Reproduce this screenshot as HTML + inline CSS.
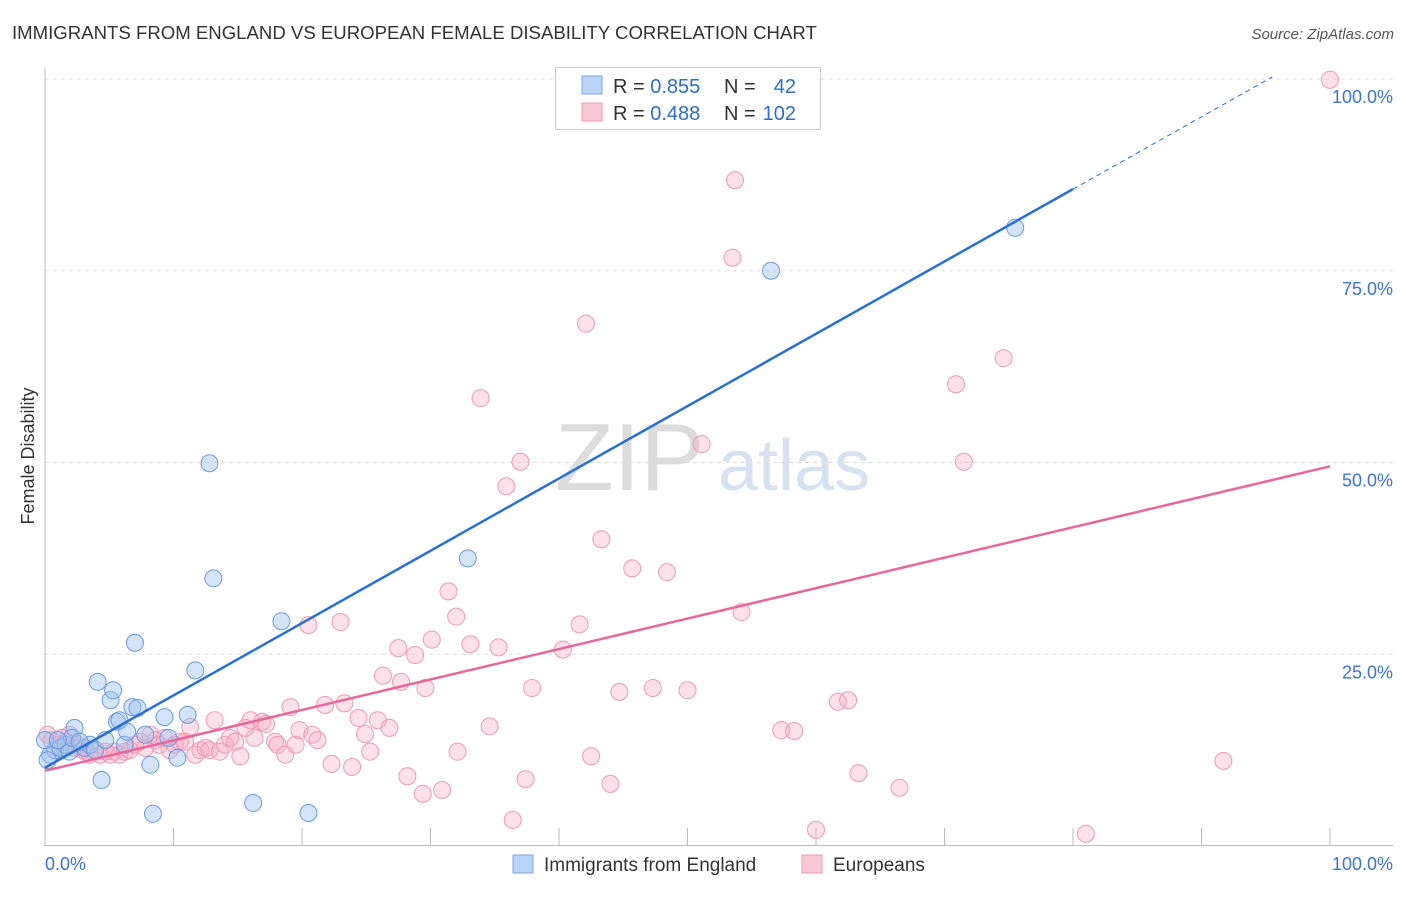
<!DOCTYPE html>
<html><head><meta charset="utf-8"><style>
body{margin:0;background:#fff;font-family:"Liberation Sans",sans-serif}
svg text{font-family:"Liberation Sans",sans-serif}
</style></head><body>
<svg id="chart" width="1406" height="892" xmlns="http://www.w3.org/2000/svg">
<text x="12" y="39" font-size="18.6" fill="#333">IMMIGRANTS FROM ENGLAND VS EUROPEAN FEMALE DISABILITY CORRELATION CHART</text>
<text x="1394" y="39" font-size="15" fill="#555" text-anchor="end" font-style="italic">Source: ZipAtlas.com</text>
<text x="555" y="490" font-size="96" fill="#dcdcdc" font-family="Liberation Serif">ZIP</text>
<text x="718" y="490" font-size="72" fill="#d6e2f2">atlas</text>
<g id="grid"></g>
<g id="marks"></g>
<text transform="translate(34,456) rotate(-90)" font-size="18" fill="#333" text-anchor="middle">Female Disability</text>
<g>
<rect x="555.5" y="67.5" width="265" height="62" fill="#fff" stroke="#ccc"/>
<rect x="582" y="76" width="20" height="18" fill="#b9d4f5" stroke="#7aa6e0"/>
<rect x="582" y="103" width="20" height="18" fill="#f9c8d6" stroke="#ee9ab3"/>
<text x="613" y="93" font-size="20" fill="#333">R = <tspan fill="#2f6ccc">0.855</tspan></text>
<text x="724" y="93" font-size="20" fill="#333">N =</text>
<text x="796" y="93" font-size="20" fill="#2f6ccc" text-anchor="end">42</text>
<text x="613" y="120" font-size="20" fill="#333">R = <tspan fill="#2f6ccc">0.488</tspan></text>
<text x="724" y="120" font-size="20" fill="#333">N =</text>
<text x="796" y="120" font-size="20" fill="#2f6ccc" text-anchor="end">102</text>
</g>
<g>
<rect x="513" y="855" width="20" height="18" fill="#b9d4f5" stroke="#7aa6e0"/>
<text x="544" y="871" font-size="19" fill="#333">Immigrants from England</text>
<rect x="802" y="855" width="20" height="18" fill="#f9c8d6" stroke="#ee9ab3"/>
<text x="833" y="871" font-size="19" fill="#333">Europeans</text>
</g>
</svg>
<script>
const blueX=[0.4,0.8,1.2,1.6,1.9,2.3,2.1,3.1,3.5,3.9,4.1,4.4,4.7,5.1,5.3,5.6,5.8,6.2,6.4,7.0,6.8,7.2,7.8,8.2,8.4,9.3,9.6,10.3,11.7,11.1,12.8,13.1,16.2,18.4,20.5,32.9,56.5,75.5,0,0.2,1.0,2.7];
const blueY=[11.9,12.5,12.8,13.2,12.3,15.4,14.1,12.8,13.2,12.5,21.4,8.6,13.8,19.0,20.3,16.2,16.4,13.2,14.9,26.5,18.1,18.0,14.5,10.6,4.2,16.8,14.1,11.5,22.9,17.1,49.9,34.9,5.6,29.3,4.3,37.5,75.0,80.6,13.8,11.2,13.8,13.6];
const pinkX=[0.2,0.5,1.0,1.3,1.6,1.9,2.3,2.6,2.9,3.2,3.5,3.8,4.3,4.7,5.1,5.4,5.8,6.2,6.6,7.0,7.4,7.8,8.2,8.6,8.9,9.3,9.7,10.1,10.5,10.9,11.3,11.7,12.1,12.5,12.8,13.2,13.6,14.0,14.4,14.8,15.2,15.6,16.0,16.3,16.9,17.2,17.9,18.1,18.7,19.1,19.5,19.8,20.5,20.8,21.2,21.8,22.3,23.0,23.3,23.9,24.4,24.9,25.3,25.9,26.3,26.8,27.5,27.7,28.2,28.8,29.4,29.6,30.1,30.9,31.4,32.0,32.1,33.1,33.9,34.6,35.3,35.9,36.4,37.0,37.4,37.9,40.3,41.6,42.1,42.5,43.3,44.0,44.7,45.7,47.3,48.4,50.0,51.1,53.5,53.7,54.2,57.3,58.3,60.0,61.7,62.5,63.3,66.5,70.9,71.5,74.6,81.0,91.7,100];
const pinkY=[14.5,13.8,13.2,14.1,13.6,14.5,12.8,13.2,12.5,12.3,11.9,12.3,11.9,12.3,11.9,12.3,11.9,12.3,12.5,13.2,13.6,12.8,14.5,13.8,13.2,14.1,12.5,13.2,13.6,13.6,15.5,11.9,12.5,12.8,12.5,16.4,12.3,13.2,14.1,13.6,11.7,15.4,16.4,14.1,16.2,15.9,13.6,13.2,11.9,18.1,13.2,15.1,28.8,14.5,13.8,18.4,10.7,29.2,18.6,10.3,16.7,14.6,12.3,16.4,22.2,15.4,25.8,21.4,9.1,24.9,6.8,20.6,26.9,7.3,33.2,29.9,12.3,26.3,58.4,15.6,25.9,46.9,3.4,50.1,8.7,20.6,25.6,28.9,68.1,11.7,40.0,8.1,20.1,36.2,20.6,35.7,20.3,52.4,76.7,86.8,30.5,15.1,15.0,2.1,18.8,19.0,9.5,7.6,60.2,50.1,63.6,1.6,11.1,99.9];
const yTicks=[25,50,75,100];
const yTickLabels=["25.0%","50.0%","75.0%","100.0%"];
const xTicks=[0,10,20,30,40,50,60,70,80,90,100];
const blueFit=[10.2,104.5];
const pinkFit=[9.8,49.5];
const NS='http://www.w3.org/2000/svg';
const X=v=>45+v*12.85, Y=v=>846-v*7.67;
function mk(tag,attrs,parent){const e=document.createElementNS(NS,tag);for(const k in attrs)e.setAttribute(k,attrs[k]);parent.appendChild(e);return e;}
const grid=document.getElementById('grid'), marks=document.getElementById('marks');
yTicks.forEach((t,i)=>{
 const l=mk('line',{x1:45,x2:1393,y1:Y(t),y2:Y(t),stroke:'#ddd','stroke-dasharray':'4,4'},grid);
 
 
 const tx=mk('text',{x:1393,y:Y(t)+24,'font-size':18,fill:'#3d74cc','text-anchor':'end'},grid);
 tx.textContent=yTickLabels[i];
 
 
});
const ax=mk('path',{d:'M45,68 V845.5 H1393',stroke:'#bbb',fill:'none'},grid);


xTicks.forEach(t=>{
 const l=mk('line',{x1:X(t),x2:X(t),y1:828,y2:845,stroke:'#bbb'},grid);
 
 
});
const xl0=mk('text',{x:45,y:870,'font-size':18,fill:'#3d74cc'},grid);xl0.textContent='0.0%';


const xl1=mk('text',{x:1393,y:870,'font-size':18,fill:'#3d74cc','text-anchor':'end'},grid);xl1.textContent='100.0%';


pinkX.forEach((x,i)=>{
 const c=mk('circle',{cx:X(x),cy:Y(pinkY[i]),r:8.5,fill:'rgba(246,170,195,0.35)',stroke:'#ee9ab3','stroke-width':1},marks);
 
 
});
blueX.forEach((x,i)=>{
 const c=mk('circle',{cx:X(x),cy:Y(blueY[i]),r:8.5,fill:'rgba(160,196,240,0.45)',stroke:'#6a9ae0','stroke-width':1},marks);
 
 
});
const bAt=x=>blueFit[0]+(blueFit[1]-blueFit[0])*x/100;
const b1=mk('line',{x1:X(0),y1:Y(bAt(0)),x2:X(80),y2:Y(bAt(80)),stroke:'#2a6fd6','stroke-width':2.5},marks);


const b2=mk('line',{x1:X(80),y1:Y(bAt(80)),x2:X(95.5),y2:Y(bAt(95.5)),stroke:'#2a6fd6','stroke-width':1,'stroke-dasharray':'5,4'},marks);


const p1=mk('line',{x1:X(0),y1:Y(pinkFit[0]),x2:X(100),y2:Y(pinkFit[1]),stroke:'#e8679a','stroke-width':2.5},marks);


</script>
</body></html>
